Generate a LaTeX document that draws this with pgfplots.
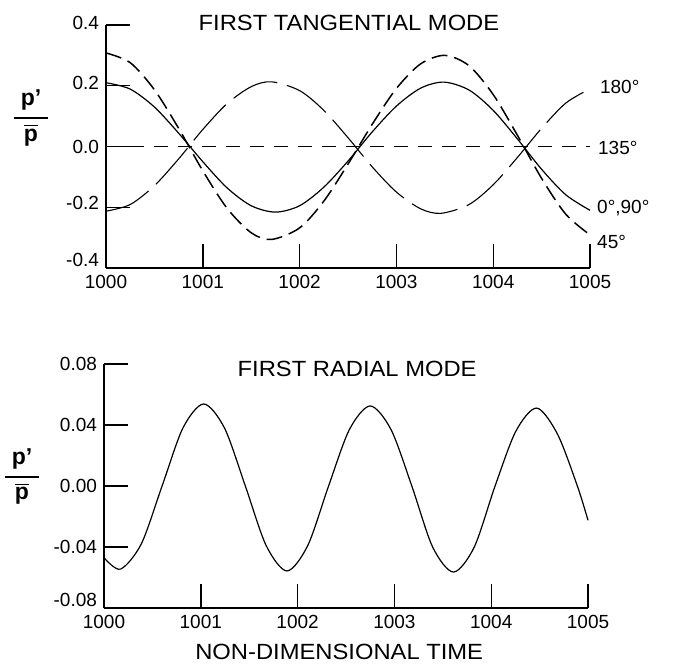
\documentclass[border=0pt]{standalone}
\usepackage{amsmath}
\usepackage{graphicx}
\usepackage{fontspec}
\setmainfont{Liberation Sans}
\usepackage{pgfplots}
\pgfplotsset{compat=1.18}

\pgfplotsset{myax/.style={
  scale only axis, width=242pt,
  axis lines=left, axis line style={-, line width=0.8pt},
  tick align=inside, major tick length=12pt,
  tick style={line width=0.7pt, black},
  xmin=1000, xmax=1005,
  xtick={1000,1001,1002,1003,1004,1005},
  xticklabels={1000,1001,1002,1003,1004,1005},
  scaled y ticks=false, scaled x ticks=false,
  ticklabel style={font=\fontsize{9.5}{10}\selectfont},
  clip=false,
}}

\newcommand{\ylab}{$\genfrac{}{}{1pt}{0}{\makebox[17pt]{\fontsize{11.5}{11}\selectfont\bfseries p'}}{\overline{\makebox{\fontsize{11.5}{11}\selectfont\bfseries p}}}$}
\newcommand{\up}[1]{\raisebox{4pt}[\height][\depth]{#1}}

\begin{document}
\begin{tikzpicture}
\useasboundingbox (-53pt,-200.5pt) rectangle (283.5pt,134pt);

% ---------------- top: first tangential mode
\begin{axis}[myax, at={(0pt,0pt)}, anchor=south west, height=121.5pt,
  ymin=-0.4, ymax=0.4,
  ytick={-0.4,-0.2,0,0.2,0.4},
  yticklabels={\up{-0.4},\raisebox{2pt}[\height][\depth]{-0.2},0.0,\raisebox{1.5pt}[\height][\depth]{0.2},\raisebox{1pt}[\height][\depth]{0.4}}]
% 0 deg, 90 deg (solid)
\addplot[black, line width=0.6pt, smooth] coordinates {
(1000,0.21) (1000.25,0.189) (1000.5,0.130) (1000.75,0.044) (1001,-0.050)
(1001.25,-0.136) (1001.5,-0.195) (1001.75,-0.216) (1002,-0.195) (1002.25,-0.134)
(1002.5,-0.048) (1002.75,0.048) (1003,0.133) (1003.25,0.192) (1003.49,0.212)
(1003.75,0.186) (1004,0.119) (1004.25,0.025) (1004.5,-0.075) (1004.75,-0.159) (1005,-0.21)};
% 45 deg (dashed)
\addplot[black, line width=0.75pt, smooth, dash pattern=on 8pt off 3.5pt] coordinates {
(1000,0.308) (1000.25,0.276) (1000.5,0.187) (1000.75,0.060) (1001,-0.080)
(1001.25,-0.203) (1001.5,-0.284) (1001.71,-0.306) (1002,-0.268) (1002.25,-0.180)
(1002.5,-0.058) (1002.75,0.073) (1003,0.191) (1003.25,0.272) (1003.5,0.300)
(1003.75,0.266) (1004,0.171) (1004.25,0.037) (1004.5,-0.105) (1004.75,-0.223) (1005,-0.291)};
% 135 deg (dashed, zero)
\addplot[black, line width=0.8pt, dash pattern=on 7pt off 5pt] coordinates {
(1000,0) (1005,0)};
% 180 deg (long dashes)
\addplot[black, line width=0.55pt, smooth, dash pattern=on 24pt off 5pt] coordinates {
(1000,-0.213) (1000.25,-0.191) (1000.5,-0.129) (1000.75,-0.041) (1001,0.056)
(1001.25,0.141) (1001.5,0.197) (1001.71,0.213) (1002,0.184) (1002.25,0.119)
(1002.5,0.029) (1002.75,-0.067) (1003,-0.150) (1003.25,-0.205) (1003.46,-0.220)
(1003.75,-0.191) (1004,-0.126) (1004.25,-0.036) (1004.5,0.060) (1004.75,0.143) (1005,0.19)};

\node[font=\fontsize{11}{13}\selectfont, yshift=1.2pt] at (rel axis cs:0.502,1) {\scalebox{1.08}[1]{FIRST TANGENTIAL MODE}};
\begin{scope}[every node/.style={anchor=west, inner sep=0pt, font=\fontsize{9.5}{10}\selectfont}]
\node at (axis cs:1005.10,0.196) {180°};
\node at (axis cs:1005.08,-0.005) {135°};
\node at (axis cs:1005.07,-0.202) {0°,90°};
\node at (axis cs:1005.07,-0.314) {45°};
\end{scope}
\node[inner sep=0pt, xshift=-37.5pt] at (axis cs:1000,0.094) {\ylab};
\end{axis}

% ---------------- bottom: first radial mode
\begin{axis}[myax, at={(-1pt,-170pt)}, anchor=south west, height=122pt,
  ymin=-0.08, ymax=0.08,
  ytick={-0.08,-0.04,0,0.04,0.08},
  yticklabels={\up{-0.08},-0.04,0.00,0.04,0.08}]
\addplot[black, line width=0.6pt, smooth] coordinates {
(1000,-0.047) (1000.17,-0.0545) (1000.385,-0.038) (1000.60,0.000) (1000.815,0.038)
(1001.03,0.0538) (1001.245,0.038) (1001.46,0.000) (1001.675,-0.039) (1001.89,-0.0557)
(1002.105,-0.039) (1002.32,0.000) (1002.535,0.037) (1002.75,0.0525) (1002.965,0.037)
(1003.18,0.000) (1003.395,-0.040) (1003.61,-0.0564) (1003.825,-0.040) (1004.04,0.000)
(1004.255,0.036) (1004.47,0.0511) (1004.685,0.034) (1004.89,0.000) (1005,-0.0225)};

\node[font=\fontsize{11}{13}\selectfont] at (rel axis cs:0.523,0.98) {\scalebox{1.08}[1]{FIRST RADIAL MODE}};
\node[font=\fontsize{11}{13}\selectfont, yshift=-22pt] at (rel axis cs:0.486,0) {\scalebox{1.08}[1]{NON-DIMENSIONAL TIME}};
\node[inner sep=0pt, xshift=-41pt] at (axis cs:1000,0.006) {\ylab};
\end{axis}
\end{tikzpicture}
\end{document}
